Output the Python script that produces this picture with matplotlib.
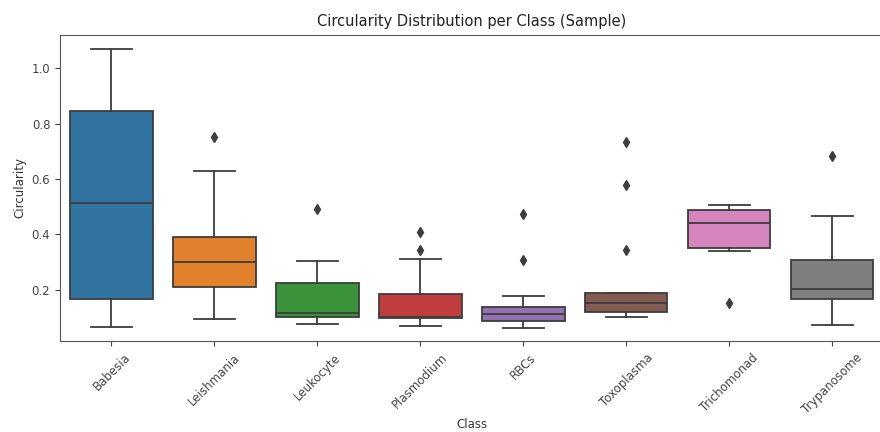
#!/usr/bin/env python3
import matplotlib
matplotlib.use("Agg")
import matplotlib.pyplot as plt

# box summary per class
classes = ["Babesia", "Leishmania", "Leukocyte", "Plasmodium",
           "RBCs", "Toxoplasma", "Trichomonad", "Trypanosome"]
whis_lo = [0.066, 0.095, 0.076, 0.070, 0.063, 0.101, 0.341, 0.072]
q1 = [0.167, 0.209, 0.102, 0.098, 0.088, 0.119, 0.352, 0.166]
median = [0.512, 0.299, 0.116, 0.102, 0.113, 0.151, 0.441, 0.202]
q3 = [0.846, 0.389, 0.223, 0.185, 0.137, 0.187, 0.487, 0.308]
whis_hi = [1.070, 0.628, 0.304, 0.311, 0.176, 0.187, 0.506, 0.466]
outliers = [[], [0.752], [0.490], [0.410, 0.344], [0.475, 0.306],
            [0.734, 0.578, 0.342], [0.151], [0.684]]

colors = ["#3274A1", "#E1812C", "#3A923A", "#C03D3E",
          "#9372B2", "#845B53", "#D684BD", "#7F7F7F"]
line_col = "#3d3d3d"

stats = []
for i, name in enumerate(classes):
    stats.append(dict(label=name, whislo=whis_lo[i], q1=q1[i], med=median[i],
                      q3=q3[i], whishi=whis_hi[i], fliers=outliers[i]))

fig = plt.figure(figsize=(8.8, 4.32), dpi=100)
ax = fig.add_axes([0.0682, 0.21, 0.936, 0.7097])

bp = ax.bxp(stats, positions=range(len(classes)), widths=0.8, patch_artist=True,
            boxprops=dict(edgecolor=line_col, linewidth=1.3),
            whiskerprops=dict(color=line_col, linewidth=1.3),
            capprops=dict(color=line_col, linewidth=1.3),
            medianprops=dict(color=line_col, linewidth=1.3),
            flierprops=dict(marker="d", markerfacecolor=line_col,
                            markeredgecolor=line_col, markersize=5))
for patch, c in zip(bp["boxes"], colors):
    patch.set_facecolor(c)

ax.set_xlim(-0.5, len(classes) - 0.5)
ax.set_ylim(0.0137, 1.121)
ax.set_yticks([0.2, 0.4, 0.6, 0.8, 1.0])
ax.set_xticks(range(len(classes)))
ax.set_xticklabels(classes, rotation=45, fontsize=8.5, color="#333333")
ax.tick_params(axis="y", labelsize=8.5, labelcolor="#333333")
ax.tick_params(colors="#444444")
for s in ax.spines.values():
    s.set_color("#555555")

ax.set_title("Circularity Distribution per Class (Sample)", fontsize=10.5, color="#222222")
ax.set_xlabel("Class", fontsize=8.5, color="#333333", labelpad=1.5)
ax.set_ylabel("Circularity", fontsize=8.5, color="#333333")

fig.savefig("out.png", dpi=100)
